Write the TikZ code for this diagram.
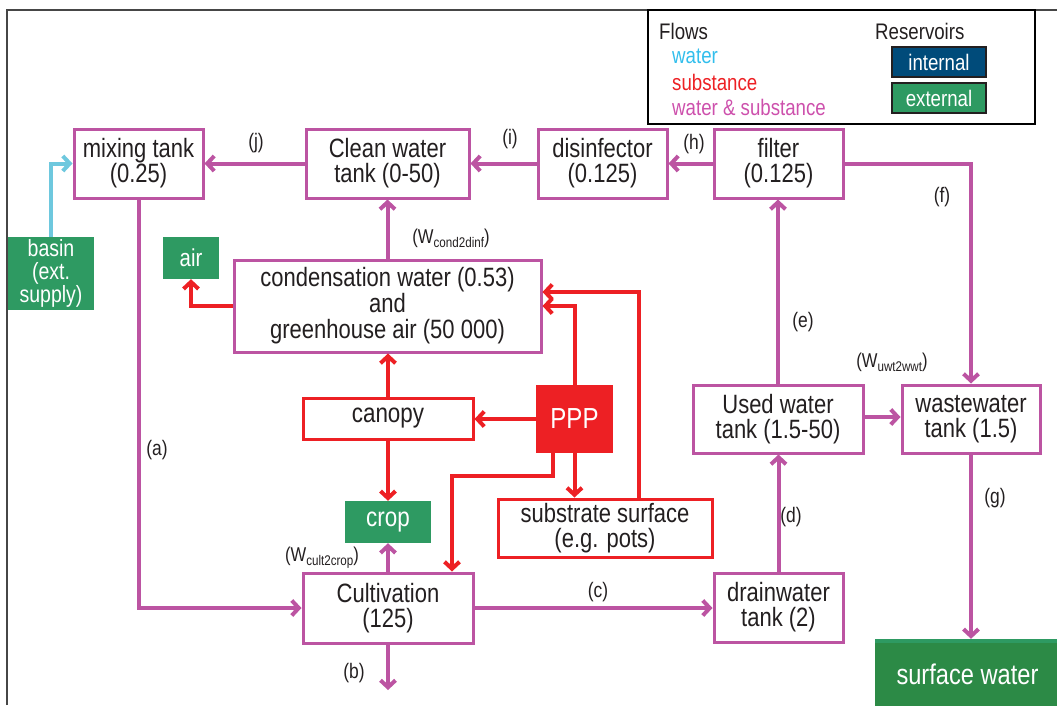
\documentclass[tikz,border=0pt]{standalone}
\usepackage{fontspec}
\setmainfont{Liberation Sans}[FakeStretch=0.83]
\usetikzlibrary{arrows.meta}
\definecolor{mag}{RGB}{188,84,162}
\definecolor{magtxt}{RGB}{205,80,172}
\definecolor{flred}{RGB}{237,32,36}
\definecolor{flcyan}{RGB}{110,200,222}
\definecolor{cyantxt}{RGB}{50,190,236}
\definecolor{ext}{RGB}{46,154,98}
\definecolor{surfg}{RGB}{44,138,70}
\definecolor{intb}{RGB}{0,75,122}
\definecolor{txt}{RGB}{35,31,32}
\definecolor{frame}{RGB}{70,70,70}
\newcommand\mysub[1]{\raisebox{-4pt}{\fontsize{14}{14}\selectfont #1}}
\begin{document}
\begin{tikzpicture}[x=1pt,y=-1pt,
  box/.style={draw=mag, line width=3pt, fill=white, text=txt, align=center, inner sep=0pt,
    font=\fontsize{26.5}{25}\selectfont},
  rbox/.style={box, draw=flred},
  resv/.style={fill=ext, text=white, align=center, inner sep=0pt, font=\fontsize{24.5}{22}\selectfont},
  flow/.style={line width=4pt, -{Straight Barb[length=7pt,width=15pt]}},
  mflow/.style={flow, draw=mag},
  rflow/.style={flow, draw=flred},
  cflow/.style={flow, draw=flcyan},
  lab/.style={text=txt, inner sep=0pt, font=\fontsize{21}{21}\selectfont},
  legt/.style={inner sep=0pt, anchor=west, font=\fontsize{22.5}{22.5}\selectfont}]
\useasboundingbox (0,0) rectangle (1057,705);
% frame
\draw[frame, line width=2pt] (7,705) -- (7,10) -- (1057,10);
% legend
\node[draw=black, line width=1.5pt, minimum width=387pt, minimum height=114pt, inner sep=0pt] (leg) at (841.5,67) {};
\node[legt, text=txt] (lflows) at (659,31) {Flows};
\node[legt, text=cyantxt] (lwater) at (672,56) {water};
\node[legt, text=flred] (lsub) at (672,82) {substance};
\node[legt, text=magtxt] (lws) at (672,107) {water \& substance};
\node[legt, text=txt] (lres) at (875,31) {Reservoirs};
\node[draw=txt, line width=1.5pt, fill=intb, text=white, minimum width=94pt, minimum height=30pt, inner sep=0pt, font=\fontsize{22.5}{22.5}\selectfont] (int) at (939,62) {internal};
\node[draw=txt, line width=1.5pt, fill=ext, text=white, minimum width=94pt, minimum height=30pt, inner sep=0pt, font=\fontsize{22.5}{22.5}\selectfont] (ext) at (939,98) {external};
% boxes
\node[box, minimum width=129pt, minimum height=69pt] (mix) at (138.5,163.5) {mixing tank\\(0.25)};
\node[box, minimum width=163pt, minimum height=69pt] (clean) at (387.5,163.5) {Clean water\\tank (0-50)};
\node[box, minimum width=129pt, minimum height=69pt] (dis) at (602.5,163.5) {disinfector\\(0.125)};
\node[box, minimum width=129pt, minimum height=69pt] (filt) at (778.5,163.5) {filter\\(0.125)};
\node[resv, minimum width=86pt, minimum height=73pt, font=\fontsize{23.5}{23}\selectfont] (basin) at (51,273.5) {basin\\(ext.\\supply)};
\node[resv, minimum width=56pt, minimum height=42pt] (air) at (191,258) {air};
\node[box, minimum width=307pt, minimum height=92pt, font=\fontsize{26.5}{26}\selectfont] (cond) at (387.5,306) {condensation water (0.53)\\and\\greenhouse air (50 000)};
\node[rbox, minimum width=170pt, minimum height=41pt, font=\fontsize{27}{25}\selectfont] (can) at (388,418.5) {canopy};
\node[fill=flred, text=white, inner sep=0pt, minimum width=77pt, minimum height=68pt, font=\fontsize{29}{29}\selectfont] (ppp) at (574.5,419) {PPP};
\node[resv, minimum width=86pt, minimum height=42pt, font=\fontsize{27}{25}\selectfont] (crop) at (388,522) {crop};
\node[rbox, minimum width=214pt, minimum height=58pt] (sub) at (605,528) {substrate surface\\(e.g. pots)};
\node[box, minimum width=170pt, minimum height=70pt] (cult) at (388,608) {Cultivation\\(125)};
\node[box, minimum width=129pt, minimum height=69pt] (drain) at (778.5,607.5) {drainwater\\tank (2)};
\node[box, minimum width=170pt, minimum height=68pt] (used) at (778,419) {Used water\\tank (1.5-50)};
\node[box, minimum width=138pt, minimum height=68pt] (waste) at (971,419) {wastewater\\tank (1.5)};
\node[fill=surfg, text=white, inner sep=0pt, minimum width=185pt, minimum height=70pt, font=\fontsize{28.5}{28.5}\selectfont] (surf) at (967.5,674) {surface water};
\fill[ext] (surf.north west) rectangle ([yshift=-4pt]surf.north east);
\coordinate (bend) at (388,690);
% connectors
\draw[cflow] (basin.north) |- (mix.west);
\draw[mflow] (clean.west) -- (mix.east);
\draw[mflow] (dis.west) -- (clean.east);
\draw[mflow] (filt.west) -- (dis.east);
\draw[mflow] (filt.east) -| (waste.north);
\draw[mflow] (mix.south) |- (cult.west);
\draw[mflow] (cond.north) -- (clean.south);
\draw[rflow] (cond.west) -| (air.south);
\draw[rflow] (ppp.north) |- (cond.east);
\draw[rflow] ([xshift=34pt]sub.north) |- ([yshift=14pt]cond.east);
\draw[rflow] (can.north) -- (can.north |- cond.south);
\draw[rflow] (ppp.west) -- (ppp.west -| can.east);
\draw[rflow] (can.south) -- (crop.north);
\draw[rflow] (ppp.south) -- (ppp.south |- sub.north);
\draw[rflow] ([xshift=-22pt]ppp.south) -- ++(0,23) -| ([xshift=64pt]cult.north);
\draw[mflow] (cult.north) -- (crop.south);
\draw[mflow] (cult.south) -- (bend);
\draw[mflow] (cult.east) -- (cult.east -| drain.west);
\draw[mflow] (drain.north) -- (drain.north |- used.south);
\draw[mflow] (used.north) -- (used.north |- filt.south);
\draw[mflow] ([yshift=2pt]used.east) -- ([yshift=2pt]used.east -| waste.west);
\draw[mflow] (waste.south) -- (waste.south |- surf.north);
% labels
\node[lab] (lj) at (256,143) {(j)};
\node[lab] (li) at (510,139) {(i)};
\node[lab] (lh) at (694,144) {(h)};
\node[lab] (lf) at (942,197) {(f)};
\node[lab] (la) at (157,450) {(a)};
\node[lab] (le) at (803,322) {(e)};
\node[lab] (lc) at (598,592) {(c)};
\node[lab] (ld) at (791,517) {(d)};
\node[lab] (lg) at (995,498) {(g)};
\node[lab] (lb) at (354,673) {(b)};
\node[lab, font=\fontsize{20}{20}\selectfont] (lw1) at (451,238) {(W\mysub{cond2dinf})};
\node[lab, font=\fontsize{20}{20}\selectfont] (lw2) at (892,362) {(W\mysub{uwt2wwt})};
\node[lab, font=\fontsize{20}{20}\selectfont] (lw3) at (322,558) {(W\mysub{cult2crop})};
\end{tikzpicture}
\end{document}
